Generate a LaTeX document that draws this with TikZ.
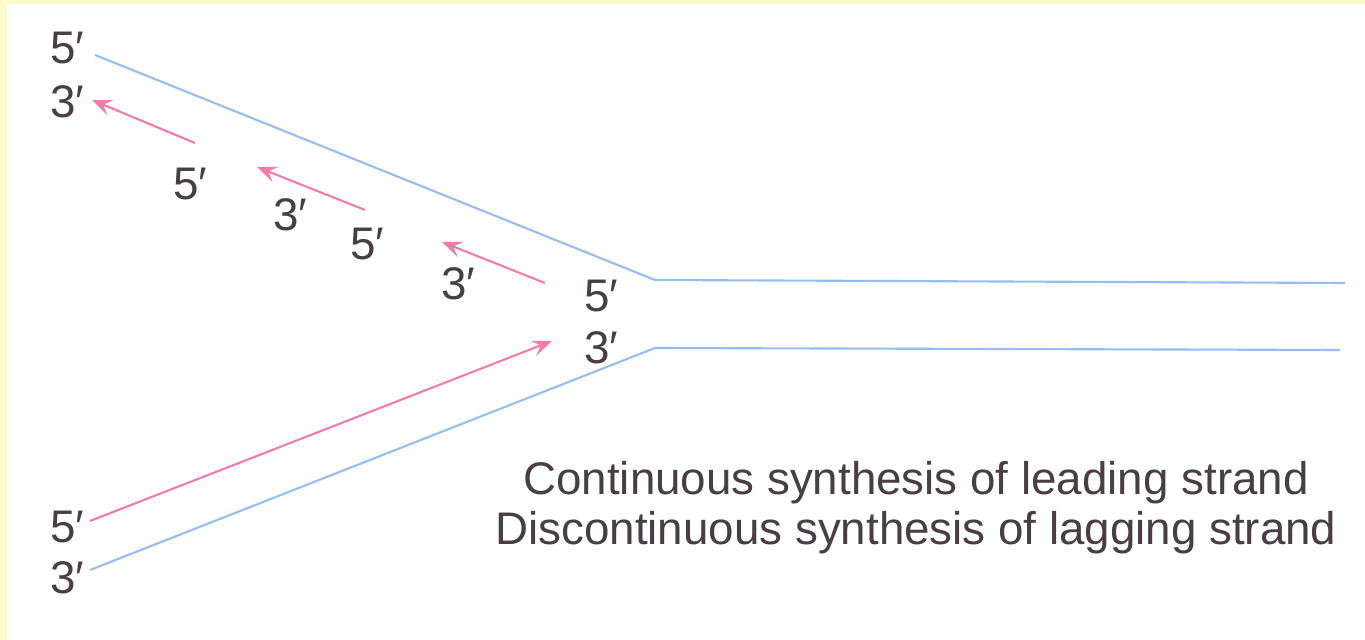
\documentclass[tikz,border=0pt]{standalone}
\usepackage{fontspec}
\setmainfont{Liberation Sans}
\usepackage{xcolor}
\usetikzlibrary{positioning, arrows.meta}
\definecolor{strandblue}{RGB}{150,190,240}
\definecolor{primerpink}{RGB}{240,125,165}
\definecolor{labelgray}{RGB}{72,62,68}
\definecolor{paperyellow}{RGB}{255,252,204}

\begin{document}
\begin{tikzpicture}[x=0.01cm, y=-0.01cm, >={Stealth[length=2mm, width=1.6mm, inset=0.8mm]},
    strand/.style={draw=strandblue, line width=0.6pt},
    primer/.style={draw=primerpink, line width=0.6pt, ->},
    endlabel/.style={text=labelgray, font=\fontsize{13}{13}\selectfont, inner sep=0pt},
    caption/.style={text=labelgray, font=\fontsize{13}{14.2}\selectfont, align=center, inner sep=0pt}]
   \fill[paperyellow] (0,0) rectangle (1365,640);
   \fill[white] (7,4) rectangle (1365,640);
   \useasboundingbox (0,0) rectangle (1365,640);

   % parental strands
   \coordinate (top_l) at (95,55);
   \coordinate (top_f) at (655,280);
   \coordinate (top_r) at (1345,283);
   \coordinate (bot_l) at (90,570);
   \coordinate (bot_f) at (655,348);
   \coordinate (bot_r) at (1340,350);
   \draw[strand] (top_l) -- (top_f) -- (top_r);
   \draw[strand] (bot_l) -- (bot_f) -- (bot_r);

   % ends of the strands
   \node[endlabel] (p5_tl) at (67,48) {5′};
   \node[endlabel] (p3_tl) at (67,102) {3′};
   \node[endlabel] (p5_bl) at (67,527) {5′};
   \node[endlabel] (p3_bl) at (67,578) {3′};
   \node[endlabel] (p5_f) at (601,296) {5′};
   \node[endlabel] (p3_f) at (601,348) {3′};

   % Okazaki fragments
   \coordinate (ok1_s) at (195,143);
   \coordinate (ok1_e) at (92,100);
   \coordinate (ok2_s) at (365,210);
   \coordinate (ok2_e) at (257,167);
   \coordinate (ok3_s) at (545,283);
   \coordinate (ok3_e) at (442,242);
   \node[endlabel] (ok1_5) at (190,184) {5′};
   \node[endlabel] (ok2_3) at (290,215) {3′};
   \node[endlabel] (ok2_5) at (367,244) {5′};
   \node[endlabel] (ok3_3) at (458,284) {3′};
   \draw[primer] (ok1_s) -- (ok1_e);
   \draw[primer] (ok2_s) -- (ok2_e);
   \draw[primer] (ok3_s) -- (ok3_e);

   % leading strand
   \coordinate (lead_s) at (90,521);
   \coordinate (lead_e) at (552,341);
   \draw[primer] (lead_s) -- (lead_e);

   \node[caption] (legend) at (916,508)
     {Continuous synthesis of leading strand\\Discontinuous synthesis of lagging strand};
\end{tikzpicture}
\end{document}
